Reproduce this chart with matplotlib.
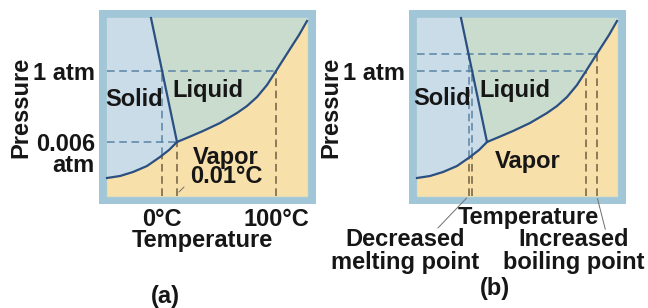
import numpy as np
import matplotlib
matplotlib.use('Agg')
import matplotlib.pyplot as plt
from matplotlib.patches import Rectangle

plt.rcParams['font.family'] = ['Liberation Sans', 'DejaVu Sans']
plt.rcParams['font.weight'] = 'bold'
plt.rcParams['axes.labelweight'] = 'bold'
plt.rcParams['font.size'] = 17

# phase boundaries of water (schematic units, plot box is 200 wide x 178 high)
sub_T = [0, 13, 26, 40, 53, 62, 70]
sub_P = [18, 20, 24, 30, 39, 46, 54]
vap_T = [70, 82, 96, 113, 130, 140, 150, 160, 169, 176, 183, 192, 200]
vap_P = [54, 59, 65, 73, 83, 90, 99, 111, 125, 136, 147, 161, 175]
melt_T = [44, 70]
melt_P = [178, 54]

P_1atm = 125
P_triple = 54
P_raised = 142   # higher pressure shown in (b)

W, H = 648, 308
BOX_T, BOX_P = 200, 178

c_border = '#a1c6d8'
c_solid = '#c9dce8'
c_liquid = '#c9dccd'
c_vapor = '#f8e0aa'
c_line = '#2b4f80'
c_dash_up = '#5a84a4'
c_dash_dn = '#6e5e44'
c_text = '#161616'

bound_T = sub_T + vap_T[1:]
bound_P = sub_P + vap_P[1:]


def melt_at(p):
    return np.interp(p, melt_P[::-1], melt_T[::-1])


def boil_at(p):
    return np.interp(p, vap_P, vap_T)


def edge_at(t):
    return np.interp(t, bound_T, bound_P)


def hdash(ax, p, t_end):
    ax.plot([0, t_end], [p, p], ls=(0, (5, 3)), lw=1.1, color=c_dash_up, zorder=2)


def vdash(ax, t, p_top):
    e = edge_at(t)
    if p_top > e + 0.5:
        ax.plot([t, t], [e, p_top], ls=(0, (5, 3)), lw=1.1, color=c_dash_up, zorder=2)
    ax.plot([t, t], [0, min(e, p_top)], ls=(0, (5, 3)), lw=1.1, color=c_dash_dn, zorder=2)


def label(ax, t, p, s, **kw):
    ax.text(t, p, s, ha='center', va='baseline', color=c_text, zorder=5, **kw)


def base_panel(left_px):
    ax = fig.add_axes([left_px / W, (H - 204) / H, 217 / W, 194 / H])
    ax.set_xlim(-8, BOX_T + 9)
    ax.set_ylim(-8, BOX_P + 8)
    ax.set_facecolor(c_border)
    for s in ax.spines.values():
        s.set_visible(False)
    ax.add_patch(Rectangle((0, 0), BOX_T, BOX_P, color=c_liquid, zorder=0))
    ax.fill_between(bound_T, 0, bound_P, color=c_vapor, lw=0, zorder=1)
    ax.fill(sub_T + [melt_T[0], 0], sub_P + [BOX_P, BOX_P], color=c_solid, lw=0, zorder=1)
    ax.plot(bound_T, bound_P, color=c_line, lw=1.6, zorder=4)
    ax.plot(melt_T, melt_P, color=c_line, lw=1.6, zorder=4)
    ax.tick_params(length=0, labelsize=17, colors=c_text)
    ax.set_ylabel('Pressure', color=c_text)
    ax.yaxis.label.set_va('center')
    ax.yaxis.set_label_coords(-0.36, 0.5)
    ax.xaxis.label.set_va('center')
    return ax


def leader(ax, xy, xytext):
    ax.annotate('', xy=xy, xytext=xytext, xycoords='data', textcoords='data',
                arrowprops=dict(arrowstyle='-', color='#6f6f6f', lw=0.7),
                annotation_clip=False)


fig = plt.figure(figsize=(W / 100, H / 100), dpi=100)
fig.patch.set_facecolor('white')

# ---- (a) ----
ax = base_panel(99)
t0 = melt_at(P_1atm)
t100 = boil_at(P_1atm)
hdash(ax, P_1atm, t100)
hdash(ax, P_triple, sub_T[-1])
vdash(ax, t0, P_1atm)
vdash(ax, sub_T[-1], P_triple)
vdash(ax, t100, P_1atm)
ax.set_xticks([t0, t100], ['0°C', '100°C'])
ax.tick_params(axis='x', pad=3)
ax.set_yticks([P_1atm, P_triple], ['1 atm', '0.006'])
ax.tick_params(axis='y', pad=3)
ax.annotate('atm', xy=(0, P_triple), xycoords=('axes fraction', 'data'),
            xytext=(-3, -15), textcoords='offset points', ha='right', va='center_baseline',
            color=c_text)
ax.set_xlabel('Temperature', color=c_text)
ax.xaxis.set_label_coords(0.475, -0.19)
label(ax, 27, 90, 'Solid')
label(ax, 101, 99, 'Liquid')
label(ax, 119, 13, 'Vapor\n0.01°C', linespacing=0.8)
leader(ax, (sub_T[-1], 2), (79, 11))
fig.text(165 / W, 1 - 296 / H, '(a)', ha='center', va='center', color=c_text)

# ---- (b) ----
ax = base_panel(409)
hdash(ax, P_raised, boil_at(P_raised))
hdash(ax, P_1atm, boil_at(P_1atm))
vdash(ax, melt_at(P_raised), P_raised)
vdash(ax, melt_at(P_1atm), P_1atm)
vdash(ax, boil_at(P_1atm), P_1atm)
vdash(ax, boil_at(P_raised), P_raised)
ax.set_xticks([])
ax.set_yticks([P_1atm], ['1 atm'])
ax.tick_params(axis='y', pad=3)
ax.set_xlabel('Temperature', color=c_text)
ax.xaxis.set_label_coords(0.549, -0.07)
label(ax, 25, 91, 'Solid')
label(ax, 98, 99, 'Liquid')
label(ax, 111, 28, 'Vapor')
leader(ax, (melt_at(P_raised), 0), (19, -34))
leader(ax, (boil_at(P_raised), 0), (189, -36))
fig.text(405 / W, 1 - 251 / H, 'Decreased\nmelting point', ha='center', va='center',
         linespacing=0.95, color=c_text)
fig.text(574 / W, 1 - 251 / H, 'Increased\nboiling point', ha='center', va='center',
         linespacing=0.95, color=c_text)
fig.text(495 / W, 1 - 288 / H, '(b)', ha='center', va='center', color=c_text)

fig.savefig('out.png', dpi=100)
